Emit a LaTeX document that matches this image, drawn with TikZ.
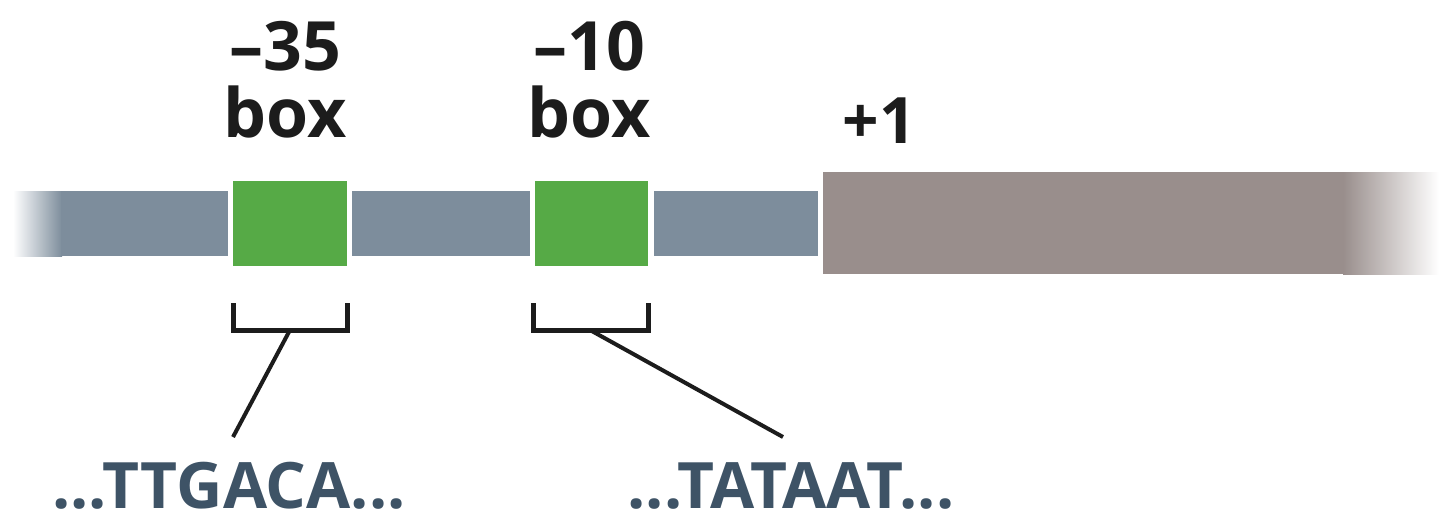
\documentclass[tikz,border=0pt]{standalone}
\usepackage{fontspec}
\setmainfont{Open Sans}
\definecolor{dnablue}{HTML}{7D8D9C}
\definecolor{boxgreen}{HTML}{56AA46}
\definecolor{genebrown}{HTML}{998E8C}
\definecolor{seqslate}{HTML}{3E5366}
\definecolor{labelink}{HTML}{1C1C1C}
\begin{document}
\begin{tikzpicture}[x=1pt,y=-1pt,
  seg/.style={rectangle,inner sep=0pt,outer sep=0pt,anchor=north west},
  bar/.style={seg,fill=dnablue,minimum height=65pt},
  motif/.style={seg,fill=boxgreen,minimum height=85pt},
  label/.style={font=\fontsize{68}{68}\selectfont\bfseries,text=labelink,anchor=base,inner sep=0pt},
  seq/.style={font=\fontsize{64}{64}\selectfont\bfseries,text=seqslate,anchor=base,inner sep=0pt},
  bracket/.style={draw=labelink,line width=5pt},
  link/.style={draw=labelink,line width=4pt}]
\useasboundingbox (0,0) rectangle (1439,515);

% promoter DNA with a faded left end
\shade[left color=white,right color=dnablue] (13,191) rectangle (62,256);
\node[bar,minimum width=167pt] (up) at (61,191) {};
\node[motif,minimum width=114pt] (m35) at (233,181) {};
\node[bar,minimum width=178pt] (spacer) at (352,191) {};
\node[motif,minimum width=113pt] (m10) at (535,181) {};
\node[bar,minimum width=164pt] (down) at (654,191) {};

% transcribed region with a faded right end
\node[seg,fill=genebrown,minimum width=521pt,minimum height=102pt] (gene) at (823,172) {};
\shade[left color=genebrown,right color=white] (1343,172) rectangle (1439,274);

% labels
\node[label] (l35) at (285,70) {–35};
\node[label] (l35b) at (285,137) {box};
\node[label] (l10) at (589,70) {–10};
\node[label] (l10b) at (589,137) {box};
\node[label,font=\fontsize{64}{64}\selectfont\bfseries] (plus1) at (879,143) {+1};

% brackets under the boxes
\coordinate (b35l) at (233,303);
\coordinate (b35r) at (347,303);
\coordinate (b10l) at (533,303);
\coordinate (b10r) at (648,303);
\draw[bracket] (b35l) -- ++(0,27) -| (b35r);
\draw[bracket] (b10l) -- ++(0,27) -| (b10r);
\coordinate (k35) at (290,330);
\coordinate (k10) at (590,330);

% consensus sequences
\node[seq] (s35) at (229,508) {...TTGACA...};
\node[seq] (s10) at (791,508) {...TATAAT...};
\coordinate (e35) at (233,437);
\coordinate (e10) at (783,437);
\draw[link] (k35) -- (e35);
\draw[link] (k10) -- (e10);
\end{tikzpicture}
\end{document}
